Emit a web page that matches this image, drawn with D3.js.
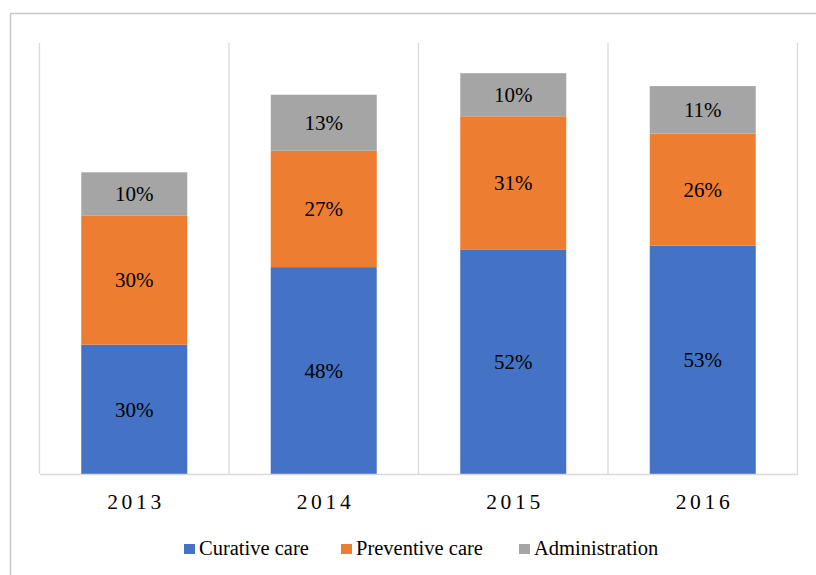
<!DOCTYPE html>
<html>
<head>
<meta charset="utf-8">
<script src="https://cdn.jsdelivr.net/npm/d3@7"></script>
<style>
  html, body { margin: 0; padding: 0; background: #fff; }
  svg { display: block; }
</style>
</head>
<body>
<svg id="chart" width="816" height="575"></svg>
<script>
// Health expenditure shares by year (percent)
const years = ["2013", "2014", "2015", "2016"];
const seriesNames = ["Curative care", "Preventive care", "Administration"];
const curative = [30, 48, 52, 53];
const preventive = [30, 27, 31, 26];
const administration = [10, 13, 10, 11];
const colors = ["#4472C4", "#ED7D31", "#A5A5A5"];

const serif = '"Liberation Serif", "Times New Roman", serif';

const seriesValues = [curative, preventive, administration];
const rows = years.map((yr, i) => {
  const r = { year: yr };
  seriesNames.forEach((s, k) => r[s] = seriesValues[k][i]);
  return r;
});

const svg = d3.select("#chart");

// outer frame
svg.append("rect")
  .attr("x", 10.5).attr("y", 13.5)
  .attr("width", 830).attr("height", 600)
  .attr("fill", "none").attr("stroke", "#c8c8c8").attr("stroke-width", 1.5);

const plotLeft = 39.5, plotRight = 797.5, plotTop = 43, plotBottom = 474;

const x = d3.scaleBand().domain(years).range([plotLeft, plotRight]).paddingInner(0).paddingOuter(0);
const y = d3.scaleLinear().domain([0, 100]).range([plotBottom, plotTop]);
const barW = 106;

// category separators
const bounds = years.map(d => x(d)).concat([plotRight]);
svg.append("g").selectAll("line").data(bounds).join("line")
  .attr("x1", d => d).attr("x2", d => d)
  .attr("y1", plotTop).attr("y2", plotBottom)
  .attr("stroke", "#d9d9d9").attr("stroke-width", 1.3);

const stack = d3.stack().keys(seriesNames)(rows);

const groups = svg.append("g").selectAll("g").data(stack).join("g")
  .attr("fill", (d, i) => colors[i]);

groups.selectAll("rect").data(d => d).join("rect")
  .attr("x", d => x(d.data.year) + x.bandwidth() / 2 - barW / 2)
  .attr("width", barW)
  .attr("y", d => y(d[1]))
  .attr("height", d => y(d[0]) - y(d[1]));

// value labels
groups.selectAll("text").data(d => d.map(v => ({ v, key: d.key }))).join("text")
  .attr("x", d => x(d.v.data.year) + x.bandwidth() / 2)
  .attr("y", d => (y(d.v[0]) + y(d.v[1])) / 2)
  .attr("dy", "0.35em")
  .attr("text-anchor", "middle")
  .attr("fill", "#000")
  .style("font-family", serif)
  .style("font-size", "21px")
  .text(d => d.v.data[d.key] + "%");

// baseline axis
const xAxis = svg.append("g").attr("transform", `translate(0,${plotBottom})`)
  .call(d3.axisBottom(x).tickSize(0).tickPadding(0));
xAxis.select(".domain").attr("stroke", "#d9d9d9").attr("stroke-width", 1.5);
xAxis.selectAll(".tick text")
  .attr("y", 35).attr("dy", null)
  .attr("dx", "1.8px")
  .style("font-family", serif)
  .style("font-size", "21.5px")
  .attr("letter-spacing", "3.7px")
  .attr("fill", "#000");

// legend
const legendX = [184, 341, 519];
const legend = svg.append("g").selectAll("g").data(seriesNames).join("g")
  .attr("transform", (d, i) => `translate(${legendX[i]},549)`);
legend.append("rect")
  .attr("x", 0).attr("y", -5).attr("width", 11).attr("height", 10)
  .attr("fill", (d, i) => colors[i]);
legend.append("text")
  .attr("x", 15).attr("y", 6)
  .attr("fill", "#000")
  .style("font-family", serif)
  .style("font-size", "20.5px")
  .text(d => d);
</script>
</body>
</html>
